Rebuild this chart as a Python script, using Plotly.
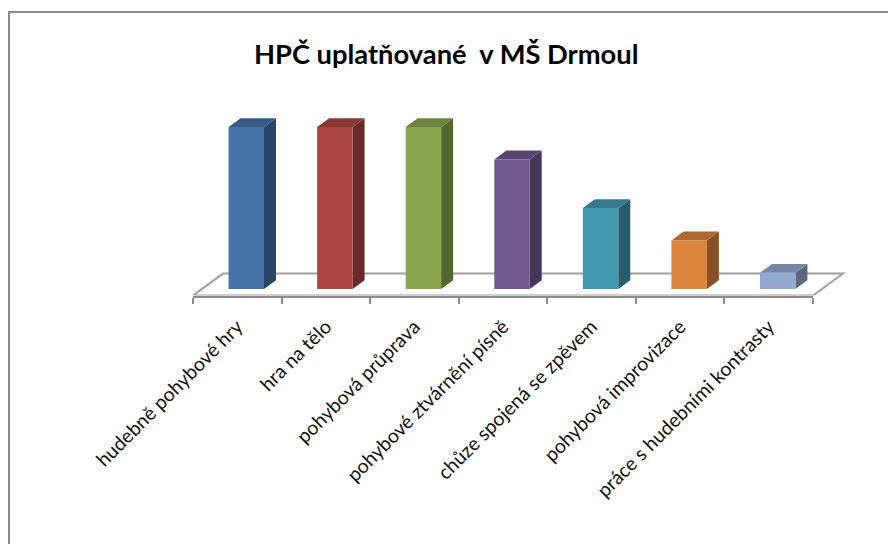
import plotly.graph_objects as go

kategorie = [
    "hudebně pohybové hry",
    "hra na tělo",
    "pohybová průprava",
    "pohybové ztvárnění písně",
    "chůze spojená se zpěvem",
    "pohybová improvizace",
    "práce s hudebními kontrasty",
]
hodnoty = [10, 10, 10, 8, 5, 3, 1]
barvy = ["#4572A7", "#AA4643", "#89A54E", "#71588F", "#4198AF", "#DB843D", "#93A9CF"]

# stranka ma okraj 8 px, figura proto zacina na (8, 8)
OKRAJ = 8
W, H = 896 - OKRAJ, 544 - OKRAJ


def fx(px):
    return (px - OKRAJ) / W


def fy(py):
    return 1 - (py - OKRAJ) / H


# geometrie "3D" grafu v pixelech stranky
X0_PX, X1_PX = 193, 813          # konce kategoriove osy
PX_KAT = (X1_PX - X0_PX) / len(kategorie)
Y0_PX = 289                      # zakladna sloupcu
PX_JEDNOTKA = 16.2
HL_DX_PX, HL_DY_PX = 30, 22      # hloubka podlahy
HL_DX = HL_DX_PX / PX_KAT
HL_DY = HL_DY_PX / PX_JEDNOTKA
SIRKA = 0.4
PRED, ZAD = 0.3, 0.7             # hloubka sloupce (podil podlahy)

y_min = -PRED * HL_DY
podlaha_px = Y0_PX + PRED * HL_DY_PX
horni_px = 100
y_max = (Y0_PX - horni_px) / PX_JEDNOTKA
konec_px = 880
x_max = -0.5 + (konec_px - X0_PX) / PX_KAT


def ztmav(hexcol, f):
    r, g, b = (int(hexcol[i:i + 2], 16) for i in (1, 3, 5))
    return "rgb(%d,%d,%d)" % (r * f, g * f, b * f)


fig = go.Figure()

ddx = (ZAD - PRED) * HL_DX
ddy = (ZAD - PRED) * HL_DY
for i, (v, c) in enumerate(zip(hodnoty, barvy)):
    x0 = i - SIRKA / 2 + PRED * HL_DX
    x1 = x0 + SIRKA
    # bocni stena
    fig.add_trace(go.Scatter(
        x=[x1, x1 + ddx, x1 + ddx, x1], y=[0, ddy, v + ddy, v],
        fill="toself", mode="lines", line=dict(width=0),
        fillcolor=ztmav(c, 0.62), hoverinfo="skip",
        xaxis="x", yaxis="y",
    ))
    # vrchni stena
    fig.add_trace(go.Scatter(
        x=[x0, x1, x1 + ddx, x0 + ddx], y=[v, v, v + ddy, v + ddy],
        fill="toself", mode="lines", line=dict(width=0),
        fillcolor=ztmav(c, 0.8), hoverinfo="skip",
        xaxis="x", yaxis="y",
    ))

# predni steny sloupcu
fig.add_trace(go.Bar(
    x=kategorie, y=hodnoty, xaxis="x2", yaxis="y",
    width=SIRKA, offset=-SIRKA / 2 + PRED * HL_DX,
    marker=dict(color=barvy, line=dict(width=0)),
    hoverinfo="x+y",
))

n = len(kategorie)
podlaha = "M %f,%f L %f,%f L %f,%f L %f,%f Z" % (
    -0.5, y_min, n - 0.5, y_min,
    n - 0.5 + HL_DX, y_min + HL_DY, -0.5 + HL_DX, y_min + HL_DY)

fig.update_layout(
    width=W, height=H,
    margin=dict(l=0, r=0, t=0, b=0, pad=0, autoexpand=False),
    paper_bgcolor="white", plot_bgcolor="rgba(0,0,0,0)",
    showlegend=False,
    font=dict(family="Lato, sans-serif", color="#111"),
    xaxis=dict(domain=[fx(X0_PX), fx(konec_px)], range=[-0.5, x_max],
               visible=False, fixedrange=True, anchor="y", automargin=False),
    xaxis2=dict(domain=[fx(X0_PX), fx(X1_PX)], range=[-0.5, n - 0.5],
                type="category", anchor="y", tickson="boundaries",
                ticks="outside", ticklen=6, tickwidth=2, tickcolor="#8c8c8c",
                showline=True, linecolor="#8c8c8c", linewidth=2,
                showgrid=False, tickangle=-45, fixedrange=True, automargin=False,
                ticklabelstandoff=10,
                tickfont=dict(family="Lato, sans-serif", size=19.5, color="#111")),
    yaxis=dict(domain=[fy(podlaha_px), fy(horni_px)],
               range=[y_min, y_max], visible=False, fixedrange=True,
               automargin=False),
    shapes=[
        dict(type="path", path=podlaha, xref="x", yref="y", layer="below",
             line=dict(color="#a0a0a0", width=2), fillcolor="white"),
        dict(type="rect", xref="paper", yref="paper",
             x0=fx(9), x1=1.05, y0=-0.05, y1=fy(12),
             line=dict(color="#8a8a8a", width=2)),
    ],
    annotations=[
        dict(text="<b>HPČ uplatňované  v MŠ Drmoul</b>", xref="paper", yref="paper",
             x=fx(446), y=fy(54), xanchor="center", yanchor="middle",
             showarrow=False, font=dict(family="Lato, sans-serif", size=27.3, color="#000")),
    ],
)

fig.write_html("out.html")
